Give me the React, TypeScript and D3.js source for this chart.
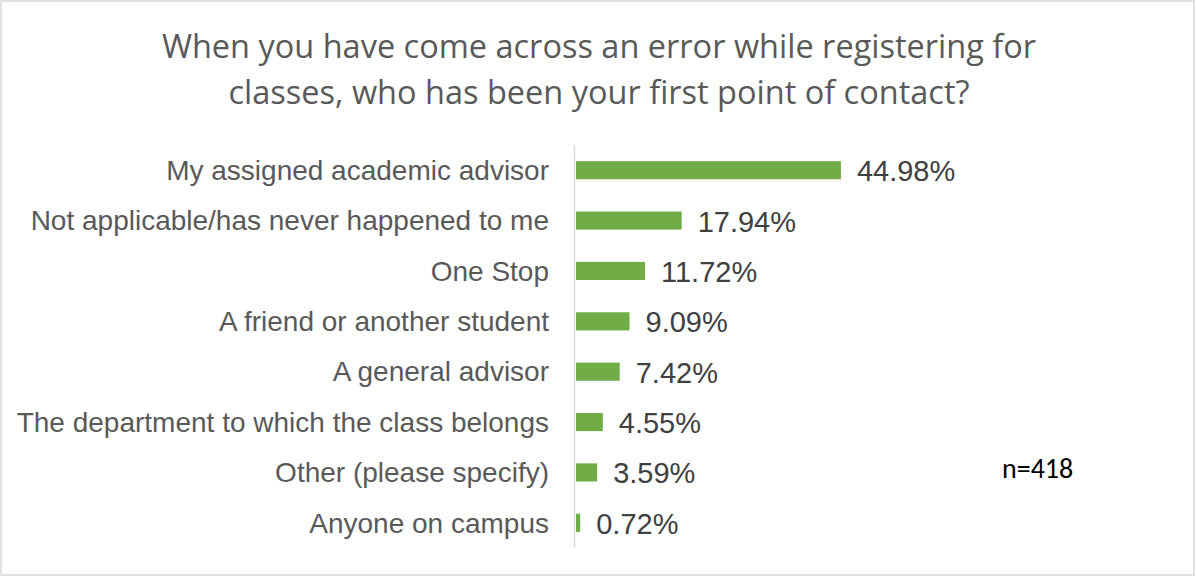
import React from "react";
import * as d3 from "d3";

const categories = [
  "My assigned academic advisor",
  "Not applicable/has never happened to me",
  "One Stop",
  "A friend or another student",
  "A general advisor",
  "The department to which the class belongs",
  "Other (please specify)",
  "Anyone on campus",
];
const values = [44.98, 17.94, 11.72, 9.09, 7.42, 4.55, 3.59, 0.72];
const titleLines = [
  "When you have come across an error while registering for",
  "classes, who has been your first point of contact?",
];
const note = "n=418";

const W = 1196;
const H = 577;

export default function App() {
  const x = d3.scaleLinear().domain([0, 10]).range([576, 576 + 58.9]);
  const y = d3
    .scaleBand<string>()
    .domain(categories)
    .range([145, 548])
    .paddingInner(0.64)
    .paddingOuter(0.32);
  return (
    <svg
      width={W}
      height={H}
      style={{ position: "fixed", left: 0, top: 0 }}
      fontFamily="'Liberation Sans', Arial, sans-serif"
    >
      <rect x={0} y={0} width={W} height={H} fill="#fff" />
      <rect x={1} y={1} width={W - 3} height={H - 3} fill="none" stroke="#d9d9d9" strokeWidth={1.5} />
      {titleLines.map((t, i) => (
        <text
          key={i}
          x={W / 2 + 1}
          y={58 + i * 46}
          textAnchor="middle"
          fontFamily="'Open Sans', 'Noto Sans', sans-serif"
          fontSize={32.5}
          fill="#595959"
        >
          {t}
        </text>
      ))}
      <line x1={574.5} x2={574.5} y1={145} y2={548} stroke="#d9d9d9" strokeWidth={1.5} />
      {categories.map((c, i) => {
        const yc = (y(c) as number) + y.bandwidth() / 2;
        return (
          <g key={c}>
            <rect
              x={x(0)}
              y={y(c)}
              width={x(values[i]) - x(0)}
              height={y.bandwidth()}
              fill="#70ad47"
            />
            <text
              x={549}
              y={yc}
              dy="0.35em"
              textAnchor="end"
              fontSize={28}
              fill="#595959"
            >
              {c}
            </text>
            <text
              x={x(values[i]) + 16}
              y={yc}
              dy="0.38em"
              fontSize={29}
              fill="#404040"
            >
              {values[i].toFixed(2) + "%"}
            </text>
          </g>
        );
      })}
      <text x={1002} y={478} fontSize={28} fill="#000" fontFamily="'Carlito', 'Liberation Sans', sans-serif">
        {note}
      </text>
    </svg>
  );
}
